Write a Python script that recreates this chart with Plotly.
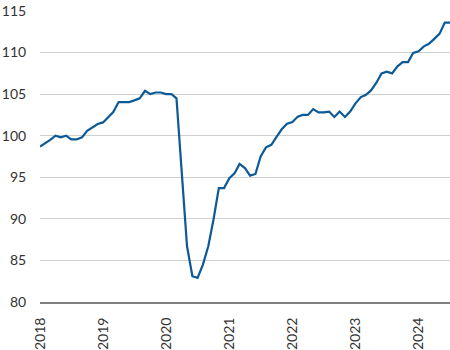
import plotly.graph_objects as go
import pandas as pd

start_month = "2018-01-01"
values = [
    98.7, 99.1, 99.5, 100.0, 99.8, 100.0, 99.55, 99.55, 99.8, 100.6, 101.0, 101.4,
    101.6, 102.2, 102.85, 104.05, 104.05, 104.05, 104.25, 104.5, 105.4, 105.0, 105.2, 105.2,
    105.0, 105.0, 104.5, 95.5, 86.7, 83.1, 82.9, 84.5, 86.7, 89.9, 93.7, 93.7,
    94.9, 95.5, 96.6, 96.1, 95.2, 95.4, 97.5, 98.6, 98.9, 99.85, 100.8, 101.45,
    101.65, 102.3, 102.5, 102.5, 103.2, 102.8, 102.8, 102.9, 102.25, 102.9, 102.25, 102.9,
    103.9, 104.65, 104.9, 105.45, 106.35, 107.5, 107.7, 107.5, 108.35, 108.85, 108.85, 109.95,
    110.15, 110.75, 111.05, 111.65, 112.25, 113.6, 113.6,
]
dates = pd.date_range(start_month, periods=len(values), freq="MS")
year_ticks = ["2018-01-01", "2019-01-01", "2020-01-01", "2021-01-01",
              "2022-01-01", "2023-01-01", "2024-01-01"]
year_labels = ["2018", "2019", "2020", "2021", "2022", "2023", "2024"]
y_ticks = [80, 85, 90, 95, 100, 105, 110, 115]

fig = go.Figure()
fig.add_trace(go.Scatter(
    x=dates, y=values, mode="lines",
    line=dict(color="#0b5a97", width=2.2),
    hoverinfo="skip",
))

fig.update_layout(
    width=450, height=350,
    margin=dict(l=40, r=0, t=11, b=48),
    paper_bgcolor="white", plot_bgcolor="white",
    showlegend=False,
    font=dict(family="Lato", size=14, color="#333333"),
)
fig.update_xaxes(
    range=[dates[0], dates[-1]],
    tickvals=year_ticks, ticktext=year_labels,
    tickangle=-90,
    showgrid=False, zeroline=False,
    showline=True, linecolor="#7f7f7f", linewidth=2,
    ticks="outside", ticklen=8, tickcolor="rgba(0,0,0,0)",
    tickfont=dict(family="Lato", size=14, color="#333333"),
)
fig.update_yaxes(
    range=[80, 115],
    tickvals=y_ticks,
    showgrid=True, gridcolor="#d0d0d0", gridwidth=1,
    zeroline=False, showline=False,
    ticks="outside", ticklen=10, tickcolor="rgba(0,0,0,0)",
    tickfont=dict(family="Lato", size=14, color="#333333"),
)

fig.write_html("out.html")
